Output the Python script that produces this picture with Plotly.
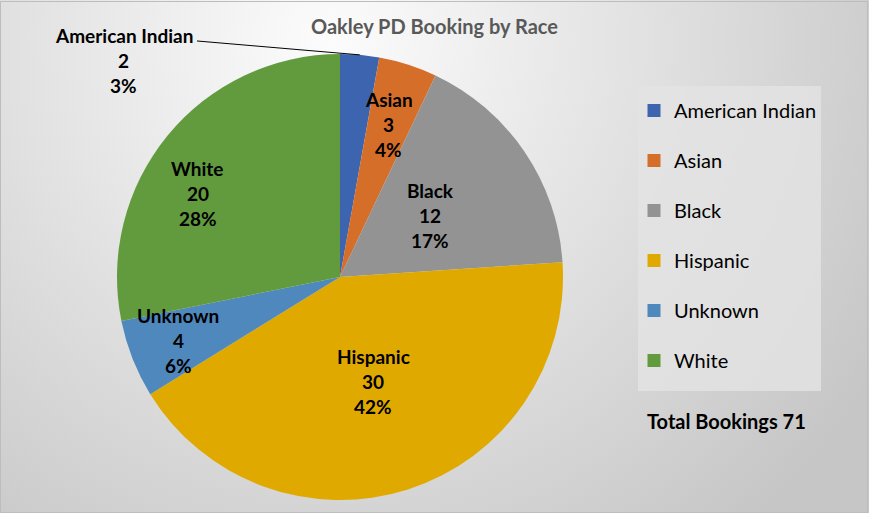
import math
import base64
import plotly.graph_objects as go

# ---- data ----
categories = ["American Indian", "Asian", "Black", "Hispanic", "Unknown", "White"]
bookings = [2, 3, 12, 30, 4, 20]
colors = ["#3D65AF", "#D56E29", "#939393", "#E0A900", "#4F88BD", "#629B3E"]
title_text = "Oakley PD Booking by Race"

# ---- layout constants ----
W, H = 869, 513
CX, CY, R = 340, 277, 223          # pie centre / radius in pixels
FONT = "Lato, 'Open Sans', sans-serif"

total = sum(bookings)
pcts = [round(v / total * 100) for v in bookings]

# label placement: (radius fraction, absolute angle or None = bisector)
label_place = [(1.37, 315.0), (0.72, None), (0.49, None), (0.49, None), (0.78, None), (0.74, 300.5)]

fig = go.Figure()

fig.add_trace(go.Pie(
    labels=categories,
    values=bookings,
    marker=dict(colors=colors, line=dict(width=0)),
    sort=False,
    direction="clockwise",
    rotation=0,
    textinfo="none",
    hoverinfo="label+value+percent",
    showlegend=False,
    domain=dict(x=[(CX - R) / W, (CX + R) / W], y=[1 - (CY + R) / H, 1 - (CY - R) / H]),
))

# legend entries (one group each so spacing matches)
for cat, col in zip(categories, colors):
    fig.add_trace(go.Scatter(
        x=[None], y=[None], mode="markers", name=cat, legendgroup=cat,
        marker=dict(symbol="square", size=13, color=col),
        hoverinfo="skip",
    ))

def px2paper(px, py):
    return px / W, 1 - py / H

annotations = []
shapes = []

# legend panel
shapes.append(dict(type="rect", xref="paper", yref="paper", x0=638 / W, x1=821 / W, y0=1 - 391 / H, y1=1 - 86 / H,
                   fillcolor="rgba(228,228,228,0.8)", line=dict(width=0), layer="below"))

cum = 0
for i, (cat, v, p) in enumerate(zip(categories, bookings, pcts)):
    mid = (cum + v / 2) / total * 360
    cum += v
    rf, ang = label_place[i]
    a = math.radians(ang if ang is not None else mid)
    lx = CX + rf * R * math.sin(a)
    ly = CY - rf * R * math.cos(a)
    x, y = px2paper(lx, ly)
    for k, line in enumerate([cat, str(v), f"{p}%"]):
        annotations.append(dict(
            x=x, y=y, xref="paper", yref="paper", text=line, showarrow=False,
            yshift=25 - 25 * k, font=dict(family=FONT, size=19, color="#000000", weight="bold"),
            xanchor="center", yanchor="middle",
        ))
    if rf > 1:
        # leader line from label to slice edge
        ex = CX + R * math.sin(math.radians(mid))
        ey = CY - R * math.cos(math.radians(mid))
        sx, sy = lx + 73, ly - 20
        x0, y0 = px2paper(sx, sy)
        x1, y1 = px2paper(ex, ey)
        shapes.append(dict(type="line", xref="paper", yref="paper", x0=x0, y0=y0, x1=x1, y1=y1,
                           line=dict(color="#000000", width=1)))

annotations.append(dict(
    x=645 / W, y=1 - 421 / H, xref="paper", yref="paper", text=f"Total Bookings {total}",
    showarrow=False, xanchor="left", yanchor="middle",
    font=dict(family=FONT, size=20, color="#000000", weight="bold"),
))

# border
shapes.append(dict(type="rect", xref="paper", yref="paper", x0=0.5 / W, y0=0.5 / H, x1=1 - 1.5 / W, y1=1 - 1.5 / H,
                   line=dict(color="#bdbdbd", width=1), layer="above"))

# radial gradient background
svg = f'''<svg xmlns="http://www.w3.org/2000/svg" width="{W}" height="{H}" viewBox="0 0 {W} {H}" preserveAspectRatio="none">
<defs><radialGradient id="g" gradientUnits="userSpaceOnUse" cx="330" cy="40" r="640">
<stop offset="0" stop-color="#fcfcfc"/><stop offset="0.35" stop-color="#e9e9e9"/><stop offset="1" stop-color="#c6c6c6"/>
</radialGradient></defs><rect width="{W}" height="{H}" fill="url(#g)"/></svg>'''
src = "data:image/svg+xml;base64," + base64.b64encode(svg.encode()).decode()

fig.update_layout(
    width=W, height=H,
    margin=dict(l=0, r=0, t=0, b=0),
    paper_bgcolor="#dcdcdc",
    plot_bgcolor="rgba(0,0,0,0)",
    images=[dict(source=src, xref="paper", yref="paper", x=0, y=1, sizex=1, sizey=1,
                 xanchor="left", yanchor="top", sizing="stretch", layer="below")],
    title=dict(text=title_text, x=0.5, xanchor="center", y=1 - 27 / H, yanchor="middle",
               font=dict(family=FONT, size=20, color="#595959", weight="bold")),
    xaxis=dict(visible=False), yaxis=dict(visible=False),
    legend=dict(x=634 / W, y=1 - 91 / H, xanchor="left", yanchor="top",
                bgcolor="rgba(0,0,0,0)", borderwidth=0,
                font=dict(family=FONT, size=20, color="#000000"),
                traceorder="grouped", tracegroupgap=21, itemwidth=30),
    annotations=annotations,
    shapes=shapes,
)

fig.write_html("out.html", config={"displayModeBar": False},
               post_script="document.body.style.margin='0';document.body.style.overflow='hidden';")
